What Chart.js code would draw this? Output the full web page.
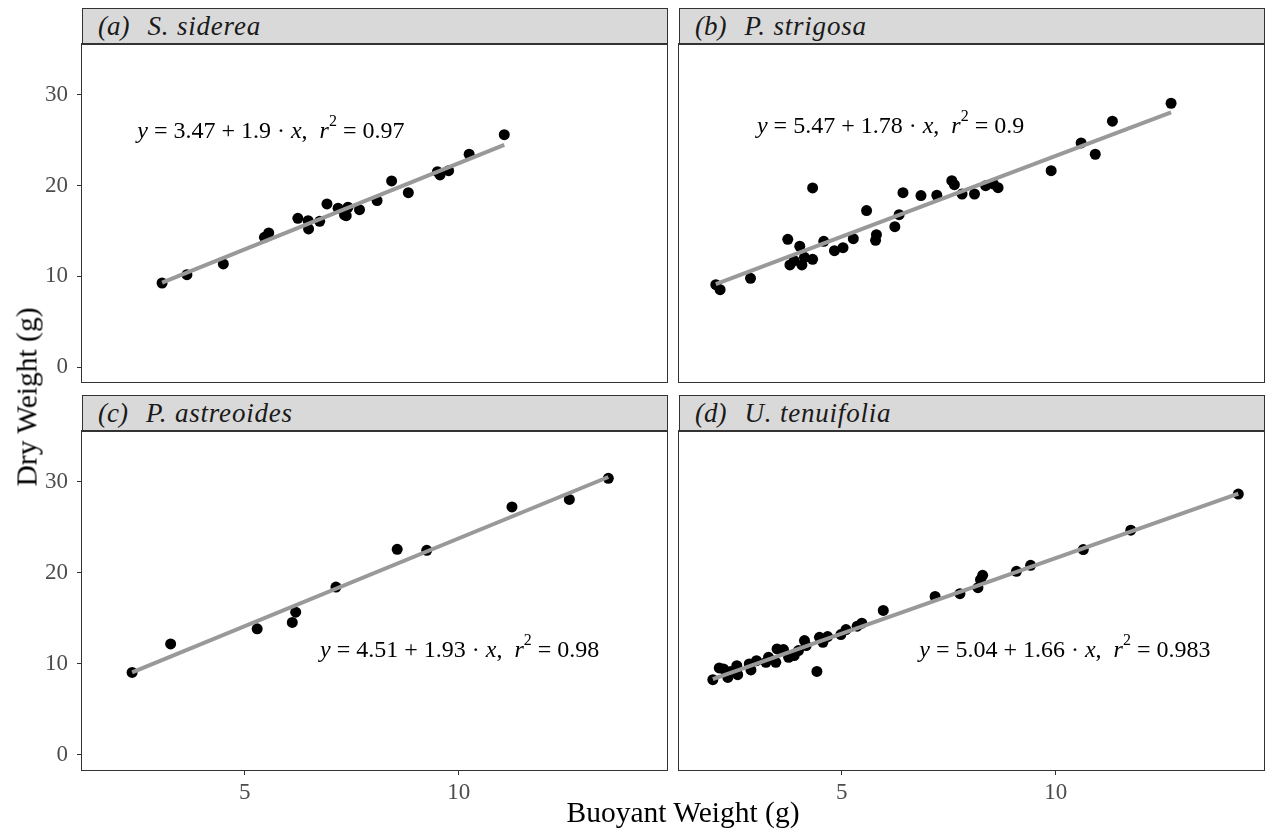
<!DOCTYPE html>
<html>
<head>
<meta charset="utf-8">
<script src="https://cdn.jsdelivr.net/npm/chart.js@4"></script>
<style>
  body { margin: 0; background: #fff; }
  #page { position: relative; width: 1266px; height: 831px; overflow: hidden; font-family: "Liberation Serif", "Times New Roman", serif; }
  canvas { position: absolute; }
  .strip { position: absolute; width: 586px; height: 37px; box-sizing: border-box; background: #d9d9d9; border: 1px solid #333;
           font-style: italic; font-size: 27px; line-height: 34px; padding-left: 15px; color: #1a1a1a; white-space: nowrap; }
  .strip .sp { margin-left: 18px; letter-spacing: 0.8px; }
  .title { position: absolute; color: #000; font-size: 29.5px; white-space: nowrap; }
</style>
</head>
<body>
<div id="page">
  <div class="strip" style="left:82px;top:8px">(a)<span class="sp">S. siderea</span></div>
  <div class="strip" style="left:679px;top:8px">(b)<span class="sp">P. strigosa</span></div>
  <div class="strip" style="left:82px;top:395px">(c)<span class="sp">P. astreoides</span></div>
  <div class="strip" style="left:679px;top:395px">(d)<span class="sp">U. tenuifolia</span></div>
  <canvas id="c0" width="670" height="346" style="left:0;top:40px"></canvas>
  <canvas id="c1" width="596" height="346" style="left:670px;top:40px"></canvas>
  <canvas id="c2" width="670" height="404" style="left:0;top:427px"></canvas>
  <canvas id="c3" width="596" height="404" style="left:670px;top:427px"></canvas>
  <div class="title" style="left:683px;top:796px;transform:translateX(-50%)">Buoyant Weight (g)</div>
  <div class="title" style="left:27px;top:397px;transform:translate(-50%,-50%) rotate(-90deg)">Dry Weight (g)</div>
</div>
<script>
// (a) S. siderea
const xSiderea = [3.07, 3.65, 4.50, 5.46, 5.56, 6.24, 6.48, 6.49, 6.75, 6.92, 7.18, 7.33, 7.41, 7.37, 7.68, 8.09, 8.43, 8.82, 9.50, 9.56, 9.76, 10.24, 11.06]
const ySiderea = [9.26, 10.18, 11.36, 14.3, 14.77, 16.39, 16.13, 15.22, 16.06, 17.97, 17.5, 16.76, 17.61, 16.68, 17.34, 18.34, 20.51, 19.22, 21.53, 21.17, 21.64, 23.45, 25.61]

// (b) P. strigosa
const xStrigosa = [2.06, 2.16, 2.87, 3.74, 3.79, 3.89, 4.02, 4.07, 4.13, 4.32, 4.32, 4.58, 4.83, 5.03, 5.27, 5.58, 5.79, 5.81, 6.24, 6.34, 6.43, 6.85, 7.22, 7.57, 7.63, 7.81, 8.10, 8.36, 8.54, 8.65, 9.89, 10.59, 10.92, 11.32, 12.69]
const yStrigosa = [9.07, 8.52, 9.78, 14.08, 11.25, 11.72, 13.31, 11.25, 12.09, 19.74, 11.87, 13.86, 12.82, 13.15, 14.15, 17.24, 13.97, 14.59, 15.47, 16.79, 19.22, 18.89, 18.93, 20.54, 20.1, 19.07, 19.07, 19.99, 20.18, 19.77, 21.64, 24.7, 23.45, 27.09, 29.07]

// (c) P. astreoides
const xAstreoides = [2.37, 3.27, 5.29, 6.11, 6.19, 7.13, 8.56, 9.25, 11.24, 12.58, 13.49]
const yAstreoides = [9.07, 12.2, 13.86, 14.57, 15.69, 18.45, 22.6, 22.49, 27.26, 28.08, 30.4]

// (d) U. tenuifolia
const xTenuifolia = [1.99, 2.14, 2.24, 2.34, 2.41, 2.55, 2.57, 2.84, 2.88, 3.01, 3.23, 3.29, 3.46, 3.49, 3.64, 3.76, 3.89, 3.99, 4.17, 4.13, 4.42, 4.48, 4.56, 4.67, 4.98, 5.10, 5.36, 5.47, 5.97, 7.18, 7.76, 8.18, 8.29, 8.24, 9.08, 9.41, 10.64, 11.75, 14.26]
const yTenuifolia = [8.27, 9.56, 9.45, 8.52, 9.18, 9.81, 8.82, 10.0, 9.34, 10.36, 10.18, 10.73, 10.18, 11.65, 11.58, 10.73, 10.92, 11.47, 12.02, 12.57, 9.18, 12.93, 12.38, 13.01, 13.23, 13.78, 14.15, 14.48, 15.88, 17.42, 17.72, 18.38, 19.74, 19.26, 20.18, 20.84, 22.57, 24.7, 28.67]

// fitted lines y = a + b*x and r^2
const intercepts = [3.47, 5.47, 4.51, 5.04]
const slopes = [1.9, 1.78, 1.93, 1.66]
const rSquared = [0.97, 0.9, 0.98, 0.983]
// where each equation sits (data units, text centre)
const labelX = [5.61, 6.14, 10.02, 10.21]
const labelY = [25.9, 26.5, 11.5, 11.45]

const xTicks = [5, 10]
const yTicks = [0, 10, 20, 30]
const xMin = 1.2, xMax = 14.86
const yMin = -1.65, yMax = 35.6

const xs = [xSiderea, xStrigosa, xAstreoides, xTenuifolia]
const ys = [ySiderea, yStrigosa, yAstreoides, yTenuifolia]

const serif = '"Liberation Serif", "Times New Roman", serif'

const framePlugin = {
  id: 'frame',
  afterDraw(chart) {
    const a = chart.chartArea, ctx = chart.ctx
    ctx.save()
    ctx.strokeStyle = '#333'
    ctx.lineWidth = 1
    ctx.strokeRect(a.left - 0.5, a.top - 0.5, a.right - a.left + 1, a.bottom - a.top + 1)
    ctx.restore()
  }
}

const eqPlugin = {
  id: 'eq',
  afterDatasetsDraw(chart) {
    const i = chart.options.plugins.eq.idx
    const ctx = chart.ctx
    const cx = chart.scales.x.getPixelForValue(labelX[i])
    const cy = chart.scales.y.getPixelForValue(labelY[i])
    const norm = '24px ' + serif, ital = 'italic 24px ' + serif, small = '16px ' + serif
    const parts = [
      [ital, 'y', 0], [norm, ' = ' + intercepts[i] + ' + ' + slopes[i] + ' \u00b7 ', 0], [ital, 'x', 0],
      [norm, ',  ', 0], [ital, 'r', 0], [small, '2', -10], [norm, ' = ' + rSquared[i], 0]
    ]
    ctx.save()
    let w = 0
    parts.forEach(p => { ctx.font = p[0]; w += ctx.measureText(p[1]).width })
    let x = cx - w / 2
    ctx.fillStyle = '#000'
    ctx.textBaseline = 'middle'
    parts.forEach(p => {
      ctx.font = p[0]
      ctx.fillText(p[1], x, cy + p[2])
      x += ctx.measureText(p[1]).width
    })
    ctx.restore()
  }
}

const tickGrid = { display: true, drawOnChartArea: false, drawTicks: true, tickLength: 5, color: '#333', lineWidth: 1 }

function makePanel(i) {
  const leftCol = i % 2 === 0
  const bottomRow = i >= 2
  const pts = xs[i].map((v, k) => ({ x: v, y: ys[i][k] }))
  const x0 = Math.min(...xs[i]), x1 = Math.max(...xs[i])
  const fit = [x0, x1].map(v => ({ x: v, y: intercepts[i] + slopes[i] * v }))

  return new Chart(document.getElementById('c' + i), {
    type: 'scatter',
    data: {
      datasets: [
        { data: fit, showLine: true, borderColor: '#999999', borderWidth: 4, pointRadius: 0, tension: 0, order: 0 },
        { data: pts, backgroundColor: '#000', borderWidth: 0, pointRadius: 5.5, order: 1 }
      ]
    },
    options: {
      responsive: false,
      animation: false,
      layout: { autoPadding: false, padding: { top: 4, bottom: bottomRow ? 0 : 4, left: leftCol ? 0 : 9, right: leftCol ? 3 : 2 } },
      plugins: { legend: { display: false }, tooltip: { enabled: false }, eq: { idx: i } },
      scales: {
        x: {
          type: 'linear', min: xMin, max: xMax, display: bottomRow,
          afterBuildTicks: s => { s.ticks = xTicks.map(v => ({ value: v })) },
          afterFit: s => {
            s.height = bottomRow ? 61 : 0
            s.paddingLeft = 0; s.paddingRight = 0
          },
          grid: tickGrid, border: { display: false },
          ticks: { font: { family: serif, size: 23 }, color: '#4d4d4d', padding: 4, maxRotation: 0, autoSkip: false }
        },
        y: {
          type: 'linear', min: yMin, max: yMax, display: leftCol,
          afterBuildTicks: s => { s.ticks = yTicks.map(v => ({ value: v })) },
          afterFit: s => {
            s.width = leftCol ? 82 : 0
            s.paddingTop = 0; s.paddingBottom = 0
          },
          grid: tickGrid, border: { display: false },
          ticks: { font: { family: serif, size: 23 }, color: '#4d4d4d', padding: 9, autoSkip: false }
        }
      }
    },
    plugins: [framePlugin, eqPlugin]
  })
}

const charts = [0, 1, 2, 3].map(makePanel)
</script>
</body>
</html>
